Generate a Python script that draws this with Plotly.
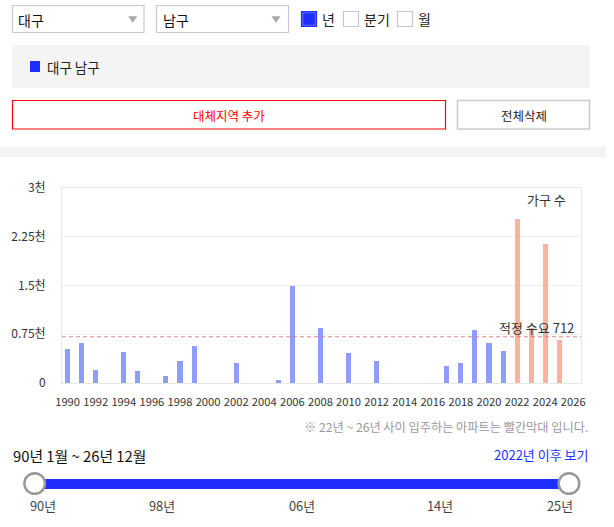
import plotly.graph_objects as go

# ---------------- data ----------------
years = list(range(1990, 2027))
values = [530, 620, 205, None, 482, 190, None, 113, 343, 574,
          None, None, 312, None, None, 51, 1487, None, 851, None,
          466, None, 343, None, None, None, None, 266, 312, 820,
          620, 497, 2528, 851, 2143, 666, None]
future_from = 2022
demand = 712
x_ticks = list(range(1990, 2027, 2))
x_tick_labels = [str(y) for y in x_ticks]
y_ticks = [0, 750, 1500, 2250, 3000]
y_tick_labels = ["0", "0.75천", "1.5천", "2.25천", "3천"]
slider_labels = ["90년", "98년", "06년", "14년", "25년"]

BLUE_BAR = "rgba(130,145,249,0.9)"
RED_BAR = "rgba(251,160,140,0.82)"
FONT = "Noto Sans CJK KR"

# --------------- geometry helpers (page pixels -> paper) ---------------
W_PAGE, H_PAGE = 614, 527
L, R, T, B = 62, 581, 188, 383
PW, PH = R - L, B - T


def X(px):
    return (px - L) / PW


def Y(py):
    return (B - py) / PH


colors = [RED_BAR if y >= future_from else BLUE_BAR for y in years]

fig = go.Figure()
fig.add_trace(go.Bar(x=years, y=values, marker=dict(color=colors, line=dict(width=0)),
                     width=0.36, hoverinfo="x+y"))

shapes = []
annotations = []


def rect(x0, y0, x1, y1, fill="rgba(0,0,0,0)", line="rgba(0,0,0,0)", lw=1, layer="above"):
    shapes.append(dict(type="rect", xref="paper", yref="paper",
                       x0=X(x0), x1=X(x1), y0=Y(y1), y1=Y(y0),
                       fillcolor=fill, line=dict(color=line, width=lw), layer=layer))


def text(px, py, s, size=13, color="#222", anchor="left"):
    annotations.append(dict(xref="paper", yref="paper", x=X(px), y=Y(py), text=s,
                            showarrow=False, xanchor=anchor, yanchor="middle",
                            font=dict(family=FONT, size=size, color=color)))


def tri(cx, cy):
    path = (f"M {X(cx-4.5)},{Y(cy-3)} L {X(cx+4.5)},{Y(cy-3)} "
            f"L {X(cx)},{Y(cy+3.5)} Z")
    shapes.append(dict(type="path", xref="paper", yref="paper", path=path,
                       fillcolor="#a8a8a8", line=dict(width=0)))


# dropdowns
rect(12.5, 5.5, 144, 32.5, fill="white", line="#c6c9d5", lw=1.2)
text(16, 19.5, "대구", 14, "#111")
tri(132.7, 19.3)
rect(156.5, 5.5, 288.5, 32.5, fill="white", line="#c6c9d5", lw=1.2)
text(160.5, 19.5, "남구", 14, "#111")
tri(276, 19.3)

# checkboxes
rect(301.5, 11.5, 316.5, 26.5, fill="#1f2eff", line="#2233ee", lw=1.2)
rect(302.8, 12.8, 315.2, 25.2, fill="#1f2eff", line="rgba(255,255,255,0.5)", lw=0.6)
text(320, 19, "년", 14, "#222")
rect(343.5, 11.5, 358.5, 26.5, fill="white", line="#c4c6cf", lw=1.2)
text(361.5, 19, "분기", 14, "#222")
rect(397.5, 11.5, 412.5, 26.5, fill="white", line="#c4c6cf", lw=1.2)
text(416, 19, "월", 14, "#222")

# legend panel
rect(12, 45, 590, 88, fill="#f4f4f4", line="rgba(0,0,0,0)", lw=0, layer="below")
rect(30, 61, 40, 72, fill="#1f2eff", line="rgba(0,0,0,0)", lw=0)
text(45, 67, "대구 남구", 13.5, "#222")

# buttons
rect(12.5, 100.5, 445.5, 129, fill="white", line="#ff0000", lw=1.2)
text(229, 115, "대체지역 추가", 12.5, "#ff0000", anchor="center")
rect(457.5, 100.5, 589.5, 129, fill="white", line="#cccccc", lw=1.5)
text(523.5, 115, "전체삭제", 12.5, "#222", anchor="center")

# separator band
rect(0, 146, 606, 157.5, fill="#f4f4f4", line="rgba(0,0,0,0)", lw=0, layer="below")

# demand line + labels
shapes.append(dict(type="line", xref="paper", yref="y", x0=0, x1=1, y0=demand, y1=demand,
                   line=dict(color="rgba(215,110,110,0.8)", width=1, dash="4px,3px"),
                   layer="above"))
text(576, 327.5, f"적정 수요 {demand}", 13, "#333", anchor="right")
text(568, 199, "가구 수", 13, "#333", anchor="right")

# footnote and slider
text(590, 426.5, "※ 22년 ~ 26년 사이 입주하는 아파트는 빨간막대 입니다.", 12.2, "#9a9a9a", anchor="right")
text(11, 455, "90년 1월 ~ 26년 12월", 14.8, "#111")
text(590, 454.5, "2022년 이후 보기", 13, "#2233ff", anchor="right")

rect(35, 479, 569, 489, fill="#1f2eff", line="rgba(0,0,0,0)", lw=0)
for cx in (34.7, 569):
    r = 10.3
    shapes.append(dict(type="circle", xref="paper", yref="paper",
                       x0=X(cx - r), x1=X(cx + r), y0=Y(483.5 + r), y1=Y(483.5 - r),
                       fillcolor="white", line=dict(color="#999999", width=2.5)))
for lx, lab in zip([42.7, 162.3, 301.5, 440, 559.5], slider_labels):
    text(lx, 505.5, lab, 12.8, "#444", anchor="center")

fig.update_layout(
    width=W_PAGE, height=H_PAGE,
    margin=dict(l=L, r=W_PAGE - R, t=T, b=H_PAGE - B, pad=0),
    paper_bgcolor="white", plot_bgcolor="white",
    showlegend=False,
    shapes=shapes, annotations=annotations,
    font=dict(family=FONT, size=12, color="#333"),
    xaxis=dict(range=[1989.6, 2026.55], tickvals=x_ticks, ticktext=x_tick_labels,
               showgrid=False, zeroline=False, showline=True, mirror=True,
               linecolor="#e8e8e8", linewidth=1, ticks="outside", ticklen=9,
               tickcolor="rgba(0,0,0,0)", tickangle=0,
               tickfont=dict(family=FONT, size=11.2, color="#333"), fixedrange=True),
    yaxis=dict(range=[0, 3000], tickvals=y_ticks, ticktext=y_tick_labels,
               showgrid=True, gridcolor="#eeeeee", gridwidth=1, zeroline=False,
               showline=True, mirror=True, linecolor="#e8e8e8", linewidth=1,
               ticks="outside", ticklen=13, tickcolor="rgba(0,0,0,0)",
               tickfont=dict(family=FONT, size=12, color="#333"), fixedrange=True),
    bargap=0,
)

fig.write_html("out.html", config={"displayModeBar": False})
